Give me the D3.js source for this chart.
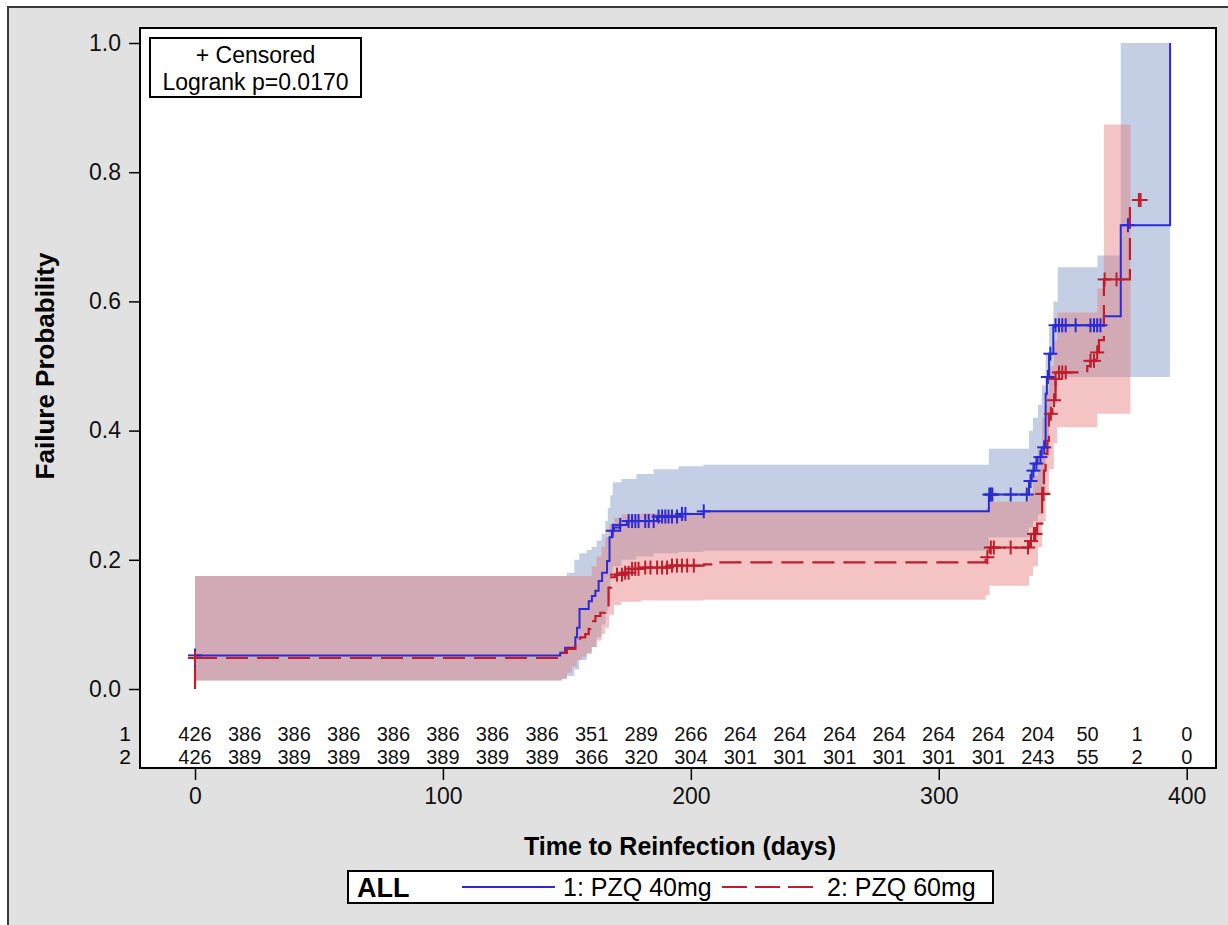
<!DOCTYPE html>
<html>
<head>
<meta charset="utf-8">
<script src="https://cdn.jsdelivr.net/npm/d3@7"></script>
<style>
  body { margin: 0; background: #fff; }
  svg { display: block; font-family: "Liberation Sans", Arial, sans-serif; }
</style>
</head>
<body>
<svg id="chart" width="1228" height="925"></svg>
<script>
// failure curve steps, group 1 (PZQ 40mg)
const steps1T = [0, 0, 147.3, 149.3, 153.4, 154.1, 155.1, 158.8, 160.1, 161.5, 162.8, 164.2, 166.2, 167.2, 168.2, 169.0, 171.5, 174.2, 186.4, 195.8, 205.2, 320.2, 336.4, 337.5, 338.5, 339.8, 341.5, 343.1, 343.6, 344.5, 346.2, 347.0, 366.6, 373.4, 393.3];
const steps1V = [0, 0.052, 0.056, 0.064, 0.080, 0.095, 0.124, 0.136, 0.144, 0.152, 0.167, 0.180, 0.198, 0.235, 0.245, 0.250, 0.254, 0.260, 0.267, 0.271, 0.275, 0.301, 0.322, 0.338, 0.349, 0.359, 0.374, 0.457, 0.483, 0.519, 0.560, 0.563, 0.577, 0.718, 1.0];

// failure curve steps, group 2 (PZQ 60mg)
const steps2T = [0, 0, 147.3, 150.0, 153.4, 155.4, 157.4, 158.8, 159.4, 161.5, 163.5, 165.5, 166.8, 167.9, 169.5, 172.9, 175.6, 179.6, 191.7, 205.2, 210.6, 318.9, 320.5, 336.4, 337.7, 339.7, 341.7, 342.4, 343.1, 343.8, 344.4, 345.8, 346.4, 347.1, 347.8, 359.9, 361.2, 363.3, 364.6, 366.6, 377.1, 382.8];
const steps2V = [0, 0.048, 0.056, 0.062, 0.078, 0.080, 0.085, 0.093, 0.105, 0.113, 0.118, 0.126, 0.157, 0.173, 0.177, 0.180, 0.186, 0.188, 0.191, 0.193, 0.196, 0.204, 0.219, 0.229, 0.240, 0.256, 0.302, 0.338, 0.364, 0.384, 0.426, 0.436, 0.447, 0.480, 0.490, 0.500, 0.508, 0.521, 0.540, 0.634, 0.757, 0.757];

// confidence bands
const band1T = [0, 148, 150, 153, 155, 158, 160, 162, 164, 165.5, 166.5, 167.5, 168.5, 172, 178, 185, 195, 205, 320.2, 336.4, 338, 340, 341.5, 343.1, 344.5, 346.2, 348, 364, 373.4, 393.3];
const band1Up = [0.175, 0.175, 0.18, 0.20, 0.21, 0.215, 0.22, 0.23, 0.24, 0.26, 0.28, 0.30, 0.32, 0.325, 0.333, 0.34, 0.345, 0.347, 0.372, 0.40, 0.42, 0.44, 0.47, 0.52, 0.56, 0.60, 0.653, 0.671, 1.0, 1.0];
const band1Lo = [0.013, 0.016, 0.02, 0.03, 0.045, 0.055, 0.065, 0.08, 0.10, 0.12, 0.14, 0.17, 0.19, 0.20, 0.205, 0.21, 0.212, 0.214, 0.235, 0.25, 0.26, 0.27, 0.29, 0.36, 0.42, 0.46, 0.483, 0.483, 0.483, 0.483];

const band2T = [0, 148, 150, 152, 154, 156, 158, 160, 162, 164, 165.5, 167, 169, 172, 180, 205, 318.9, 320.5, 336.4, 338, 340, 341.7, 343.1, 344.4, 346.4, 347.8, 364, 366.6, 377.3];
const band2Up = [0.175, 0.175, 0.175, 0.175, 0.175, 0.175, 0.175, 0.19, 0.205, 0.22, 0.235, 0.255, 0.265, 0.27, 0.272, 0.275, 0.28, 0.29, 0.30, 0.33, 0.37, 0.42, 0.46, 0.50, 0.54, 0.583, 0.62, 0.874, 0.874];
const band2Lo = [0.013, 0.016, 0.025, 0.035, 0.045, 0.05, 0.055, 0.065, 0.075, 0.085, 0.095, 0.115, 0.13, 0.135, 0.137, 0.138, 0.145, 0.16, 0.175, 0.19, 0.22, 0.26, 0.30, 0.34, 0.38, 0.405, 0.426, 0.426, 0.426];

// censored times
const cens1 = [0, 168.5, 171.5, 174.9, 176.3, 177.6, 178.9, 181.6, 183.0, 185.0, 187.0, 188.4, 189.7, 191.0, 192.4, 194.4, 196.4, 197.8, 205.2, 320.4, 321.0, 321.6, 329.0, 335.5, 337.0, 338.2, 339.4, 341.0, 342.5, 344.0, 345.0, 347.1, 348.5, 349.8, 351.2, 355.2, 361.2, 362.6, 363.9, 365.2, 376.3];
const cens2 = [0, 170.2, 172.2, 173.5, 174.9, 176.3, 177.6, 178.9, 181.6, 183.7, 186.4, 188.4, 190.4, 192.4, 194.4, 196.4, 198.5, 201.2, 319.6, 321.0, 322.2, 329.0, 336.0, 337.2, 338.4, 339.0, 341.7, 342.2, 345.2, 346.5, 347.1, 348.5, 349.8, 351.2, 361.2, 362.6, 363.9, 366.9, 371.7, 380.7, 381.4];

// numbers at risk
const riskTimes = [0, 20, 40, 60, 80, 100, 120, 140, 160, 180, 200, 220, 240, 260, 280, 300, 320, 340, 360, 380, 400];
const risk1 = [426, 386, 386, 386, 386, 386, 386, 386, 351, 289, 266, 264, 264, 264, 264, 264, 264, 204, 50, 1, 0];
const risk2 = [426, 389, 389, 389, 389, 389, 389, 389, 366, 320, 304, 301, 301, 301, 301, 301, 301, 243, 55, 2, 0];

const xTicks = [0, 100, 200, 300, 400];
const yTicks = [0, 0.2, 0.4, 0.6, 0.8, 1.0];

const blue = "#2a2ad6", red = "#c01c2c";

const svg = d3.select("#chart");

// outer gray frame
svg.append("rect").attr("x", 8).attr("y", 7).attr("width", 1240).attr("height", 940)
  .attr("fill", "#e1e1e1").attr("stroke", "#3a3a3a").attr("stroke-width", 2);

const plot = { left: 140, right: 1216, top: 28, bottom: 768 };
svg.append("rect").attr("x", plot.left).attr("y", plot.top)
  .attr("width", plot.right - plot.left).attr("height", plot.bottom - plot.top)
  .attr("fill", "#fff");

const x = d3.scaleLinear().domain([0, 400]).range([195, 1186.7]);
const y = d3.scaleLinear().domain([0, 1]).range([689, 43]);

// bands
const band = (T, lo, up) => T.map((t, i) => ({ t: t, lo: lo[i], up: up[i] }));
const area = d3.area().curve(d3.curveStepAfter)
  .x(d => x(d.t)).y0(d => y(d.lo)).y1(d => y(d.up));

svg.append("path").datum(band(band1T, band1Lo, band1Up)).attr("d", area)
  .attr("fill", "rgb(124,148,199)").attr("fill-opacity", 0.45);
svg.append("path").datum(band(band2T, band2Lo, band2Up)).attr("d", area)
  .attr("fill", "rgb(228,124,122)").attr("fill-opacity", 0.45);

// step curves
const pts = (T, V) => T.map((t, i) => [t, V[i]]);
const line = d3.line().curve(d3.curveStepAfter).x(d => x(d[0])).y(d => y(d[1]));

svg.append("path").datum(pts(steps1T, steps1V)).attr("d", line)
  .attr("fill", "none").attr("stroke", blue).attr("stroke-width", 2);
svg.append("path").datum(pts(steps2T, steps2V)).attr("d", line)
  .attr("fill", "none").attr("stroke", red).attr("stroke-width", 2.2)
  .attr("stroke-dasharray", "22,9");

// censor marks on the curves
const valueAt = (T, V, t) => V[d3.bisectRight(T, t) - 1];
function drawCensors(list, T, V, color) {
  const g = svg.append("g").attr("stroke", color).attr("stroke-width", 2);
  list.forEach(t => {
    const cx = x(t), cy = y(valueAt(T, V, t));
    g.append("line").attr("x1", cx - 7).attr("x2", cx + 7).attr("y1", cy).attr("y2", cy);
    g.append("line").attr("x1", cx).attr("x2", cx).attr("y1", cy - 7).attr("y2", cy + 7);
  });
}
drawCensors(cens1, steps1T, steps1V, blue);
drawCensors(cens2, steps2T, steps2V, red);

// plot border
svg.append("rect").attr("x", plot.left).attr("y", plot.top)
  .attr("width", plot.right - plot.left).attr("height", plot.bottom - plot.top)
  .attr("fill", "none").attr("stroke", "#000").attr("stroke-width", 2);

// y axis
const yAxis = d3.axisLeft(y).tickValues(yTicks).tickFormat(d3.format(".1f")).tickSize(11).tickPadding(8);
const gy = svg.append("g").attr("transform", `translate(${plot.left},0)`).call(yAxis);
gy.select(".domain").remove();

// x axis
const xAxis = d3.axisBottom(x).tickValues(xTicks).tickSize(12).tickPadding(8);
const gx = svg.append("g").attr("transform", `translate(0,${plot.bottom})`).call(xAxis);
gx.select(".domain").remove();

svg.selectAll(".tick text").attr("font-size", 23).attr("fill", "#111")
  .attr("font-family", "Liberation Sans, Arial, sans-serif");
svg.selectAll(".tick line").attr("stroke", "#000").attr("stroke-width", 1.5);

// numbers at risk
[risk1, risk2].forEach((row, r) => {
  const yy = [741, 764][r];
  svg.append("text").attr("x", 131).attr("y", yy).attr("text-anchor", "end")
    .attr("font-size", 21).text(r + 1);
  svg.selectAll(null).data(row).enter().append("text")
    .attr("x", (d, i) => x(riskTimes[i])).attr("y", yy)
    .attr("text-anchor", "middle").attr("font-size", 20).attr("fill", "#111")
    .text(d => d);
});

// axis titles
svg.append("text").attr("x", 680).attr("y", 855).attr("text-anchor", "middle")
  .attr("font-size", 25).attr("font-weight", "bold").text("Time to Reinfection (days)");
svg.append("text").attr("transform", "translate(54,366) rotate(-90)").attr("text-anchor", "middle")
  .attr("font-size", 26).attr("font-weight", "bold").text("Failure Probability");

// inset box
svg.append("rect").attr("x", 150).attr("y", 38).attr("width", 211).attr("height", 59)
  .attr("fill", "#fff").attr("stroke", "#000").attr("stroke-width", 2);
svg.append("text").attr("x", 255.5).attr("y", 63).attr("text-anchor", "middle")
  .attr("font-size", 23).text("+ Censored");
svg.append("text").attr("x", 255.5).attr("y", 90).attr("text-anchor", "middle")
  .attr("font-size", 23).text("Logrank p=0.0170");

// legend
const lg = svg.append("g");
lg.append("rect").attr("x", 348).attr("y", 871).attr("width", 645).attr("height", 32)
  .attr("fill", "#fff").attr("stroke", "#000").attr("stroke-width", 2);
lg.append("text").attr("x", 357).attr("y", 897).attr("font-size", 27).attr("font-weight", "bold").text("ALL");
lg.append("line").attr("x1", 462).attr("x2", 555).attr("y1", 887).attr("y2", 887)
  .attr("stroke", blue).attr("stroke-width", 2);
lg.append("text").attr("x", 563).attr("y", 896).attr("font-size", 25).text("1: PZQ 40mg");
lg.append("line").attr("x1", 722).attr("x2", 813).attr("y1", 887).attr("y2", 887)
  .attr("stroke", red).attr("stroke-width", 2.2).attr("stroke-dasharray", "25,8");
lg.append("text").attr("x", 827).attr("y", 896).attr("font-size", 25).text("2: PZQ 60mg");
</script>
</body>
</html>
